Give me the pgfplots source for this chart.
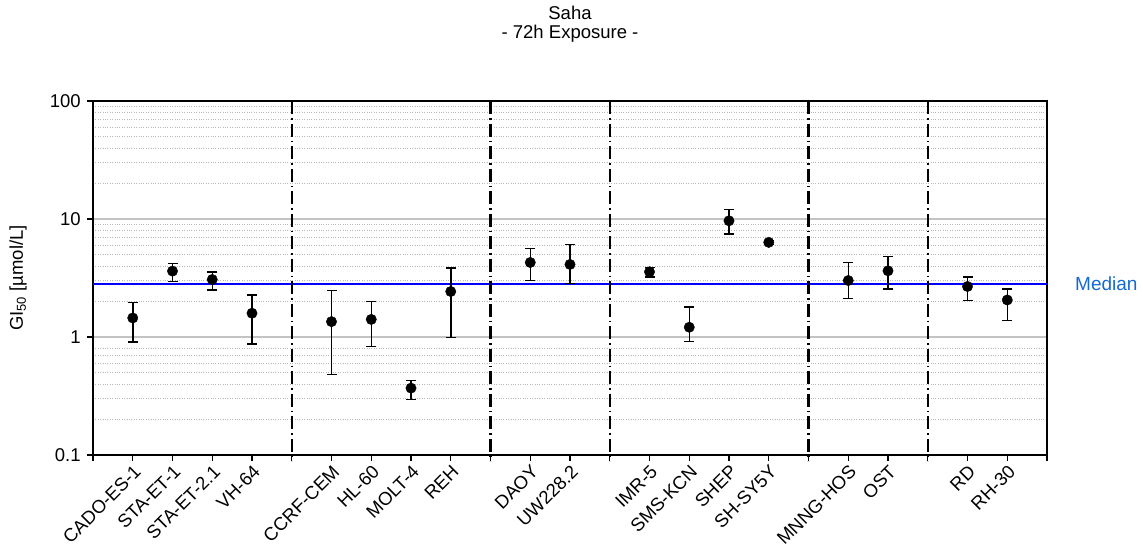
\documentclass[border=0pt]{standalone}
\usepackage{pgfplots}
\pgfplotsset{compat=1.18}
\usepackage{fontspec}
\setmainfont{Liberation Sans}
\definecolor{medtxt}{RGB}{20,105,210}
\definecolor{medline}{RGB}{0,0,255}
\definecolor{gridmaj}{RGB}{195,195,195}
\definecolor{gridmin}{RGB}{185,185,185}
\begin{document}
\fontsize{18.5}{22}\selectfont
\begin{tikzpicture}
\useasboundingbox (0pt,0pt) rectangle (1143pt,550pt);
\begin{axis}[
  at={(93pt,95pt)}, anchor=south west,
  scale only axis, width=954pt, height=354pt,
  ymode=log, ymin=0.1, ymax=100, xmin=0, xmax=24,
  clip=false,
  unbounded coords=jump,
  xtick={0,...,24},
  xticklabels={,CADO-ES-1,STA-ET-1,STA-ET-2.1,VH-64,,CCRF-CEM,HL-60,MOLT-4,REH,,DAOY,UW228.2,,IMR-5,SMS-KCN,SHEP,SH-SY5Y,,MNNG-HOS,OST,,RD,RH-30,},
  ytick={0.1,1,10,100},
  yticklabels={0.1,1,10,100},
  minor ytick={0.2,0.3,...,0.9,2,3,...,9,20,30,...,90},
  xtick pos=bottom, ytick pos=left,
  tick align=outside,
  major tick length=6pt,
  minor tick length=0pt,
  tick style={black, line width=1.4pt},
  axis line style={black, line width=1.6pt},
  ymajorgrids, yminorgrids,
  major grid style={gridmaj, line width=1.4pt},
  minor grid style={gridmin, dotted, line width=0.8pt},
  ticklabel style={font=\fontsize{18.5}{22}\selectfont},
  xticklabel style={rotate=45, anchor=north east, inner sep=2pt},
]
\addplot[medline, line width=2pt] coordinates {(0,2.84) (24,2.84)};
\pgfplotsinvokeforeach{5,10,13,18,21}{
  \draw[black, line width=2.2pt, dash pattern=on 13pt off 4pt on 1.5pt off 4pt]
    (axis cs:#1,100) -- ([yshift=-6pt]axis cs:#1,0.1);
}
% error bars: (x, lower) (x, upper)
\addplot[black, line width=1.5pt, mark=-, mark size=5pt, mark options={line width=1.5pt}]
coordinates {
(1,0.91) (1,1.96) (1.5,nan)
(2,2.94) (2,4.20) (2.5,nan)
(3,2.51) (3,3.57) (3.5,nan)
(4,0.87) (4,2.27) (4.5,nan)
(6,0.48) (6,2.48) (6.5,nan)
(7,0.83) (7,1.99) (7.5,nan)
(8,0.294) (8,0.427) (8.5,nan)
(9,0.99) (9,3.86) (9.5,nan)
(11,3.01) (11,5.64) (11.5,nan)
(12,2.84) (12,6.06) (12.5,nan)
(14,3.24) (14,3.87) (14.5,nan)
(15,0.917) (15,1.80) (15.5,nan)
(16,7.43) (16,12.05) (16.5,nan)
(17,6.1) (17,6.6) (17.5,nan)
(19,2.13) (19,4.28) (19.5,nan)
(20,2.56) (20,4.79) (20.5,nan)
(22,2.03) (22,3.24) (22.5,nan)
(23,1.38) (23,2.54)
};
\addplot[only marks, black, mark=*, mark size=5.2pt, mark options={fill=black, draw=black}]
coordinates {
(1,1.45) (2,3.62) (3,3.07) (4,1.59) (6,1.35) (7,1.41) (8,0.369) (9,2.43)
(11,4.28) (12,4.12) (14,3.57) (15,1.21) (16,9.66) (17,6.34)
(19,3.01) (20,3.64) (22,2.68) (23,2.06)
};
\node[anchor=west, xshift=28pt, text=medtxt, inner sep=0pt, font=\fontsize{19}{22}\selectfont] at (axis cs:24,2.84) {Median};
\end{axis}
\node[anchor=base] at (570pt,530pt) {Saha};
\node[anchor=base] at (570pt,511pt) {- 72h Exposure -};
\node[rotate=90, anchor=center] at (18pt,272pt) {GI\textsubscript{50} [µmol/L]};
\end{tikzpicture}
\end{document}
